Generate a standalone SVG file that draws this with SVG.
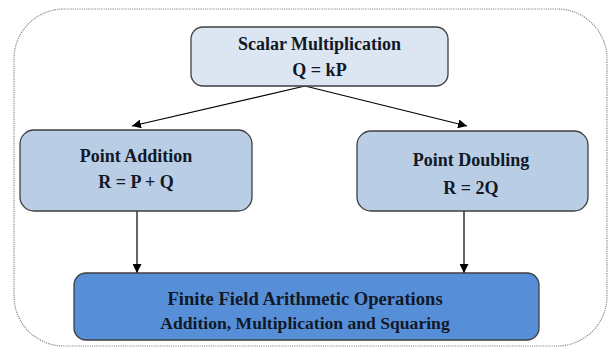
<svg xmlns="http://www.w3.org/2000/svg" width="609" height="349" viewBox="0 0 609 349">
<defs>
<marker id="ah" viewBox="0 0 10 10" refX="10" refY="5" markerWidth="9" markerHeight="9" markerUnits="userSpaceOnUse" orient="auto">
<path d="M0,0 L10,5 L0,10 z" fill="#000"/>
</marker>
<style>
.node rect{stroke:#3f3f3f;stroke-width:1.3}
.t{font-weight:bold;font-size:18px;fill:#111827;text-anchor:middle}
.c line{stroke:#000;stroke-width:1.2;marker-end:url(#ah)}
</style>
</defs>
<rect x="14" y="9" width="593" height="337" rx="50" ry="50" fill="#fff" stroke="#8a8a8a" stroke-width="1.2" stroke-dasharray="1.2 1"/>
<g class="c">
<line x1="305" y1="86" x2="132" y2="126"/>
<line x1="305" y1="86" x2="467" y2="126"/>
<line x1="137" y1="211" x2="137" y2="273"/>
<line x1="464" y1="211" x2="464" y2="273"/>
</g>
<g font-family="'Liberation Serif', 'DejaVu Serif', serif">
<g id="scalar" class="node">
<rect x="191" y="27" width="257" height="59" rx="12" fill="#dce6f2"/>
<text class="t" x="319.5" y="50">Scalar Multiplication</text>
<text class="t" x="319.5" y="76">Q = kP</text>
</g>
<g id="addition" class="node">
<rect x="20" y="130" width="232" height="81" rx="14" fill="#b9cde5"/>
<text class="t" x="136" y="162">Point Addition</text>
<text class="t" x="136" y="188">R = P + Q</text>
</g>
<g id="doubling" class="node">
<rect x="357" y="131" width="231" height="80" rx="14" fill="#b9cde5"/>
<text class="t" x="471" y="166">Point Doubling</text>
<text class="t" x="471" y="194">R = 2Q</text>
</g>
<g id="finite" class="node">
<rect x="74" y="273" width="465" height="67" rx="12" fill="#568fd7"/>
<text class="t" x="305" y="305" style="font-size:18.6px">Finite Field Arithmetic Operations</text>
<text class="t" x="305" y="329" style="font-size:17.6px">Addition, Multiplication and Squaring</text>
</g>
</g>
</svg>
